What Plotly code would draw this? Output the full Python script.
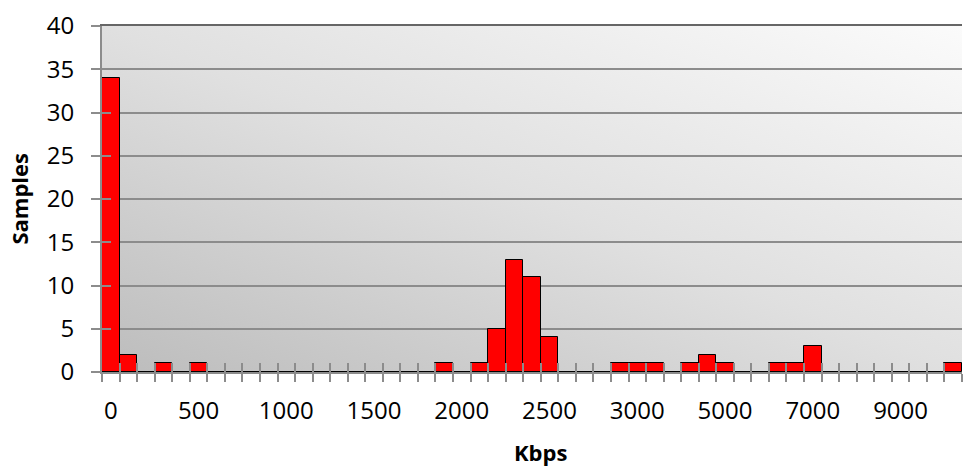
import base64
import plotly.graph_objects as go

# Category bins (Kbps) and sample counts
kbps_bins = [str(v) for v in range(0, 3001, 100)] + \
            [str(v) for v in range(3400, 9001, 400)] + ["9400", "9800", "More"]
samples = [34, 2, 0, 1, 0, 1, 0, 0, 0, 0,
           0, 0, 0, 0, 0, 0, 0, 0, 0, 1,
           0, 1, 5, 13, 11, 4, 0, 0, 0, 1,
           1, 1, 0, 1, 2, 1, 0, 0, 1, 1,
           3, 0, 0, 0, 0, 0, 0, 0, 1]
shown_labels = ["0", "500", "1000", "1500", "2000", "2500", "3000", "5000", "7000", "9000"]
y_ticks = [0, 5, 10, 15, 20, 25, 30, 35, 40]

n = len(kbps_bins)
idx = list(range(n))
label_pos = [kbps_bins.index(l) for l in shown_labels]
boundaries = [i - 0.5 for i in range(n + 1)]
xr = [-0.5, n - 0.5]
yr = [0, 40]

FONT = "Open Sans"
GRID = "#8c8c8c"

svg = ('<svg xmlns="http://www.w3.org/2000/svg" width="200" height="100" viewBox="0 0 200 100" '
       'preserveAspectRatio="none"><defs><linearGradient id="g" x1="0" y1="1" x2="1" y2="0">'
       '<stop offset="0" stop-color="#bcbcbc"/><stop offset="0.5" stop-color="#e0e0e0"/>'
       '<stop offset="1" stop-color="#fbfbfb"/></linearGradient></defs>'
       '<rect width="200" height="100" fill="url(#g)"/></svg>')
src = "data:image/svg+xml;base64," + base64.b64encode(svg.encode()).decode()

fig = go.Figure()
fig.add_trace(go.Bar(x=idx, y=samples, marker=dict(color="#ff0000", line=dict(color="#000000", width=1)),
                     hoverinfo="skip", showlegend=False))
# helper traces for overlay axes
fig.add_trace(go.Scatter(x=[], y=[], xaxis="x2", yaxis="y", showlegend=False))
fig.add_trace(go.Scatter(x=[], y=[], xaxis="x3", yaxis="y", showlegend=False))
fig.add_trace(go.Scatter(x=[], y=[], xaxis="x", yaxis="y2", showlegend=False))

fig.update_layout(
    width=971, height=466,
    margin=dict(l=102, r=9, t=26, b=94),
    paper_bgcolor="white", plot_bgcolor="rgba(0,0,0,0)",
    bargap=0,
    font=dict(family=FONT, size=24, color="#000000"),
    images=[dict(source=src, xref="paper", yref="paper", x=0, y=1, sizex=1, sizey=1,
                 sizing="stretch", layer="below", xanchor="left", yanchor="top")],
    xaxis=dict(range=xr, tickmode="array", tickvals=label_pos, ticktext=shown_labels,
               ticks="", showgrid=False, zeroline=False, showline=True,
               linecolor=GRID, linewidth=2, ticklabelstandoff=16,
               tickfont=dict(family=FONT, size=24),
               minor=dict(tickmode="array", tickvals=boundaries, ticks="outside",
                          ticklen=8, tickwidth=2, tickcolor=GRID, showgrid=False)),
    xaxis2=dict(range=xr, overlaying="x", anchor="y", side="bottom", tickmode="array",
                tickvals=boundaries, ticks="inside", ticklen=9, tickwidth=2, tickcolor=GRID,
                showticklabels=False, showgrid=False, zeroline=False, showline=False),
    xaxis3=dict(range=xr, overlaying="x", anchor="y", side="top", ticks="",
                showticklabels=False, showgrid=False, zeroline=False, showline=True,
                linecolor="#666666", linewidth=2),
    yaxis=dict(range=yr, tickmode="array", tickvals=y_ticks, ticks="outside", ticklen=9,
               tickwidth=2, tickcolor=GRID, showgrid=True, gridcolor=GRID, gridwidth=1.5,
               zeroline=False, showline=True, linecolor=GRID, linewidth=2,
               ticklabelstandoff=12, tickfont=dict(family=FONT, size=24)),
    yaxis2=dict(range=yr, overlaying="y", anchor="x", side="left", tickmode="array",
                tickvals=y_ticks, ticks="inside", ticklen=9, tickwidth=2, tickcolor=GRID,
                showticklabels=False, showgrid=False, zeroline=False, showline=False),
    annotations=[
        dict(text="<b>Kbps</b>", xref="paper", yref="paper", x=0.51, y=-0.232,
             xanchor="center", yanchor="middle", showarrow=False,
             font=dict(family=FONT, size=22)),
        dict(text="<b>Samples</b>", xref="paper", yref="paper", x=-0.097, y=0.5,
             xanchor="center", yanchor="middle", textangle=-90, showarrow=False,
             font=dict(family=FONT, size=22)),
    ],
)

fig.write_html("out.html")
